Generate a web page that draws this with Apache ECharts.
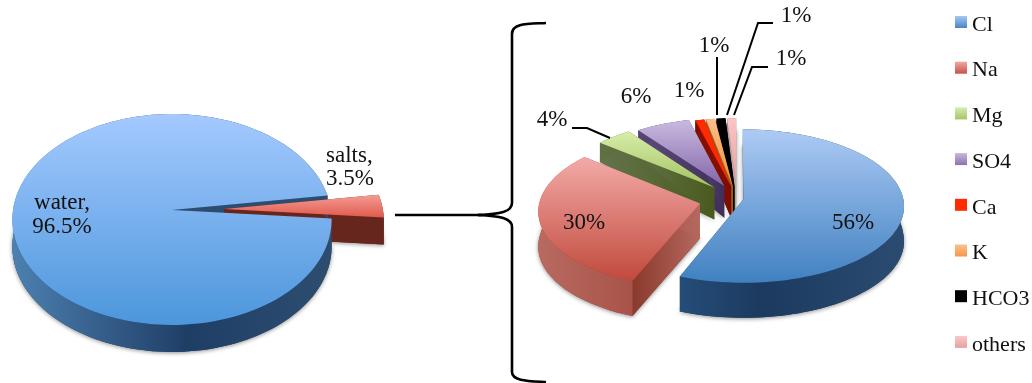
<!DOCTYPE html>
<html><head><meta charset="utf-8">
<style>html,body{margin:0;padding:0;background:#fff}#c{width:1032px;height:383px}</style>
<script src="https://cdn.jsdelivr.net/npm/echarts@6/dist/echarts.min.js"></script>
</head><body><div id="c"></div>
<script>
// ---- data ----
const leftNames = ['water', 'salts'];
const leftValues = [96.5, 3.5];
const rightNames = ['Cl', 'Na', 'Mg', 'SO4', 'Ca', 'K', 'HCO3', 'others'];
const rightValues = [56, 30, 4, 6, 1, 1, 1, 1];

// ---- style ----
const FONT = '"Liberation Serif"';
const leftPie = {cx:172, cy:210, S:159, A:104.6, k:0.09, depth:27, dm:0.2, start:4.6};
const rightPie = {cx:737, cy:199, S:160, A:76, k:0.085, depth:35, dm:0.57, start:-90};
const leftExplode = [0, 0.327];
const rightExplode = [0.04, 0.238, 0.21, 0.19, 0.17, 0.17, 0.17, 0.17];
const leftLayers = {cut:[1,2], outer:[4,3], top:[5,6]};
const rightOrder = [80,70,60,50,40,30,20,10];
const rightLayers = {cut:rightOrder, outer:rightOrder.map(o=>o+1), top:rightOrder.map(o=>o+2)};
const leftTop = [['#a5caff','#4c96dc',112,326],['#f49c94','#e0584c',195,218]];
const leftWall = [['#4c80b0','#1f3e66','#2d4d70'],['#72302a','#66261e','#66261e']];
const leftCut = [['#2d4d70','#2d4d70'],['#66261e','#66261e']];
const rightTop = [
  ['#aecbf5','#3f80c0',128,284],['#f4acaa','#bf4638',155,285],['#d8eeaa','#a2c060',130,190],
  ['#cbbce2','#8468aa',118,185],['#ff2a00','#ff2a00',115,180],['#fdc090','#f2953e',115,180],
  ['#000000','#000000',115,180],['#fcc8c8','#e6a0a0',115,180]];
const rightWall = [
  ['#2f6596','#1c3a60','#2b4b70'],['#b86a60','#9a3e36','#8a3a2c'],['#64744c','#56652c','#4a5a1e'],
  ['#5e4d7c','#4a3a66','#3e2e58'],['#8c1000','#7c0c00','#7c0c00'],['#b07028','#a06020','#a06020'],
  ['#000000','#000000','#000000'],['#b08080','#a08080','#b0b0b0']];
const rightCut = [
  ['#2b4b70','#2b4b70'],['#8a3a2c','#b5685e'],['#64744c','#4a5a1e'],
  ['#5e4d7c','#3e2e58'],['#8c1000','#7c0c00'],['#a06020','#a06020'],
  ['#000000','#000000'],['#b0b0b0','#b0b0b0']];
const legendColors = [
  ['#a5c6f4','#4a86c4'],['#f0a8a4','#c8504a'],['#d6edac','#a6c46a'],['#c6b8de','#8a72ae'],
  ['#ff2a00','#ff2a00'],['#fdc08c','#f7964a'],['#000000','#000000'],['#fcc8c8','#e6a0a0']];

// ---- text & leaders ----
const rightLabels = [[853,223],[584,223],[552,120],[636,97],[689,91],[714,46],[796,16],[791,59]];
const rightLeaders = [null,null,[[572,128],[587,128],[610,138]],null,null,
  [[717,57],[717,115]],[[773,23],[758,23],[727,115]],[[768,67],[752,67],[734,115]]];
const leftLabels = [[62,[203,227],'center'],[326,[156,179],'left']];

function project(p, u, v) {
  const s = 1 / (1 - p.k * v);
  return [p.cx + p.S * u * s, p.cy + p.A * v * s];
}
function depthAt(p, v) { return p.depth * (1 + p.dm * Math.min(0, v)); }
const rad = d => d * Math.PI / 180;

function sliceShapes(p, a0, a1, e, topC, wallC, cutC, z) {
  const mid = rad((a0 + a1) / 2), ou = e * Math.cos(mid), ov = e * Math.sin(mid);
  const n = Math.max(4, Math.ceil((a1 - a0) / 2));
  const rim = [];
  for (let i = 0; i <= n; i++) {
    const t = rad(a0 + (a1 - a0) * i / n);
    rim.push([ou + Math.cos(t), ov + Math.sin(t)]);
  }
  const down = q => { const P = project(p, q[0], q[1]); return [P[0], P[1] + depthAt(p, q[1])]; };
  const up = q => project(p, q[0], q[1]);
  const apex = [ou, ov];
  const kids = [];
  const gx0 = p.cx - p.S + ou * p.S, gx1 = p.cx + p.S + ou * p.S;
  const wallGrad = {type:'linear', global:true, x:gx0, y:0, x2:gx1, y2:0, colorStops:[
    {offset:0,color:wallC[0]},{offset:0.55,color:wallC[1]},{offset:1,color:wallC[2]}]};
  // silhouette shadow
  const base = [down(apex)].concat(rim.map(down));
  kids.push({type:'polygon', z2:z.cut - 0.5, shape:{points:base},
    style:{fill:wallC[1], shadowColor:'rgba(0,0,0,0.45)', shadowBlur:4, shadowOffsetY:1}});
  // radial cut walls
  [rim[0], rim[n]].forEach(q => {
    const pts = [up(apex), up(q), down(q), down(apex)];
    kids.push({type:'polygon', z2:z.cut, shape:{points:pts},
      style:{fill:{type:'linear', global:true, x:up(q)[0], y:0, x2:up(apex)[0] + 0.01, y2:0, colorStops:[
        {offset:0,color:cutC[0]},{offset:1,color:cutC[1]}]}}});
  });
  // outer wall
  const front = [];
  rim.forEach(q => front.push(up(q)));
  for (let i = n; i >= 0; i--) front.push(down(rim[i]));
  kids.push({type:'polygon', z2:z.outer, shape:{points:front}, style:{fill:wallGrad}});
  // top face
  const top = [up(apex)].concat(rim.map(up));
  kids.push({type:'polygon', z2:z.top, shape:{points:top}, style:{
    fill:{type:'linear', global:true, x:0, y:topC[2], x2:0, y2:topC[3], colorStops:[
      {offset:0,color:topC[0]},{offset:1,color:topC[1]}]}}});
  return kids;
}

function buildPie(p, names, values, explode, topCs, wallCs, cutCs, layers, extra) {
  const total = values.reduce((a, b) => a + b, 0);
  let cursor = p.start;
  return names.map((nm, i) => {
    const a0 = cursor, a1 = cursor + values[i] / total * 360;
    cursor = a1;
    return {
      type:'custom', name:nm, coordinateSystem:'none', silent:true, animation:false,
      clip:false, data:[[values[i]]],
      itemStyle:{color:topCs[i][1]},
      renderItem:function(){
        const kids = sliceShapes(p, a0, a1, explode[i], topCs[i], wallCs[i], cutCs[i],
          {cut:layers.cut[i], outer:layers.outer[i], top:layers.top[i]});
        return {type:'group', children:kids.concat(extra(i))};
      }
    };
  });
}
const labelStyle = {fontFamily:FONT, fontSize:23, fill:'#111'};
function txt(t, x, y, align) {
  return {type:'text', z2:200, x:x, y:y, style:Object.assign({text:t, textAlign:align, textVerticalAlign:'middle'}, labelStyle)};
}
const leftSeries = buildPie(leftPie, leftNames, leftValues, leftExplode, leftTop, leftWall, leftCut, leftLayers, i => {
  const L = leftLabels[i];
  return [txt(leftNames[i] + ',', L[0], L[1][0], L[2]), txt(leftValues[i] + '%', L[0], L[1][1], L[2])];
});
const rightSeries = buildPie(rightPie, rightNames, rightValues, rightExplode, rightTop, rightWall, rightCut, rightLayers, i => {
  const out = [txt(rightValues[i] + '%', rightLabels[i][0], rightLabels[i][1], 'center')];
  if (rightLeaders[i]) out.push({type:'polyline', z2:199, shape:{points:rightLeaders[i]},
    style:{stroke:'#000', lineWidth:2, fill:null}});
  return out;
});

const bracketStroke = {stroke:'#000', lineWidth:2.6, fill:null};
const bez = (x1,y1,c1x,c1y,c2x,c2y,x2,y2) => ({type:'bezierCurve',
  shape:{x1:x1,y1:y1,cpx1:c1x,cpy1:c1y,cpx2:c2x,cpy2:c2y,x2:x2,y2:y2}, style:bracketStroke});
const seg = (x1,y1,x2,y2) => ({type:'line', shape:{x1:x1,y1:y1,x2:x2,y2:y2}, style:bracketStroke});

const chart = echarts.init(document.getElementById('c'), null, {renderer:'canvas'});
chart.setOption({
  animation:false,
  backgroundColor:'#fff',
  legend:{
    orient:'vertical', left:955, top:8, padding:0, itemWidth:12, itemHeight:12, itemGap:17.7, icon:'rect', selectedMode:false,
    formatter:'{t|{name}}',
    textStyle:{color:'#111', rich:{t:{fontFamily:FONT, fontSize:22, color:'#111', lineHeight:22, padding:[6,0,0,0]}}},
    data:rightNames.map((n, i) => ({name:n, icon:'rect', itemStyle:{color:{type:'linear',x:0,y:0,x2:0,y2:1,colorStops:[
      {offset:0,color:legendColors[i][0]},{offset:1,color:legendColors[i][1]}]}}}))
  },
  graphic:[
    seg(395,215,482,215),
    bez(546,23,528,24,512,23,512,34), seg(512,34,512,203),
    bez(512,203,512,212,500,214,478,215), bez(478,215,500,216,512,218,512,227),
    seg(512,227,512,372), bez(512,372,512,381,528,381,546,382)
  ],
  series:leftSeries.concat(rightSeries)
});
</script></body></html>
